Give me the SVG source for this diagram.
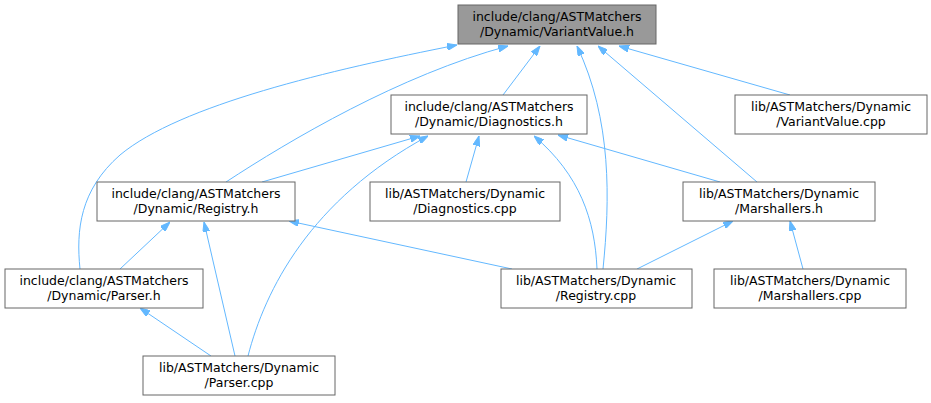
<svg xmlns="http://www.w3.org/2000/svg" width="931" height="403" viewBox="0 0 931 403">
<style>
.n rect{fill:#fff;stroke:#666;stroke-width:1}
.n.hl rect{fill:#999}
.n text{font-family:"DejaVu Sans",sans-serif;font-size:12.5px;fill:#000;text-anchor:middle}
.e path{fill:none;stroke:#63b8ff;stroke-width:1;marker-end:url(#ah)}
</style>
<defs>
<marker id="ah" markerUnits="userSpaceOnUse" viewBox="0 0 10 7" markerWidth="10" markerHeight="7" refX="10" refY="3.5" orient="auto">
<path d="M0,0 L10,3.5 L0,7 z" fill="#63b8ff" stroke="#63b8ff"/>
</marker>
</defs>
<g id="edges" class="e">
<path d="M503,95 L540,46"/>
<path d="M790,95 L619,46"/>
<path d="M226,182 C290,140 400,75 508,46"/>
<path d="M80,269 C76,230 80,190 120,155 C180,105 330,70 457,45"/>
<path d="M603,269 C610,200 612,120 577,46"/>
<path d="M757,182 L598,46"/>
<path d="M262,182 L420,136"/>
<path d="M248,356 C265,290 310,200 428,136"/>
<path d="M466,182 L479,136"/>
<path d="M597,269 C595,220 580,175 534,136"/>
<path d="M720,182 L558,135"/>
<path d="M120,269 L170,222"/>
<path d="M235,356 L204,222"/>
<path d="M512,269 L289,221"/>
<path d="M637,269 L733,221"/>
<path d="M803,269 L790,221"/>
<path d="M211,356 L140,308"/>
</g>
<g id="n1" class="n hl"><rect x="458" y="5" width="198" height="39"/><text x="557" y="21">include/clang/ASTMatchers</text><text x="557" y="36">/Dynamic/VariantValue.h</text></g>
<g id="n2" class="n"><rect x="391" y="95" width="196" height="39"/><text x="489" y="111">include/clang/ASTMatchers</text><text x="489" y="126">/Dynamic/Diagnostics.h</text></g>
<g id="n3" class="n"><rect x="735" y="95" width="192" height="39"/><text x="831" y="111">lib/ASTMatchers/Dynamic</text><text x="831" y="126">/VariantValue.cpp</text></g>
<g id="n4" class="n"><rect x="97" y="182" width="198" height="39"/><text x="196" y="198">include/clang/ASTMatchers</text><text x="196" y="213">/Dynamic/Registry.h</text></g>
<g id="n5" class="n"><rect x="370" y="182" width="190" height="39"/><text x="465" y="198">lib/ASTMatchers/Dynamic</text><text x="465" y="213">/Diagnostics.cpp</text></g>
<g id="n6" class="n"><rect x="683" y="182" width="192" height="39"/><text x="779" y="198">lib/ASTMatchers/Dynamic</text><text x="779" y="213">/Marshallers.h</text></g>
<g id="n7" class="n"><rect x="5" y="269" width="198" height="39"/><text x="104" y="285">include/clang/ASTMatchers</text><text x="104" y="300">/Dynamic/Parser.h</text></g>
<g id="n8" class="n"><rect x="501" y="269" width="191" height="39"/><text x="596" y="285">lib/ASTMatchers/Dynamic</text><text x="596" y="300">/Registry.cpp</text></g>
<g id="n9" class="n"><rect x="714" y="269" width="192" height="39"/><text x="810" y="285">lib/ASTMatchers/Dynamic</text><text x="810" y="300">/Marshallers.cpp</text></g>
<g id="n10" class="n"><rect x="143" y="356" width="192" height="39"/><text x="239" y="372">lib/ASTMatchers/Dynamic</text><text x="239" y="387">/Parser.cpp</text></g>
</svg>
